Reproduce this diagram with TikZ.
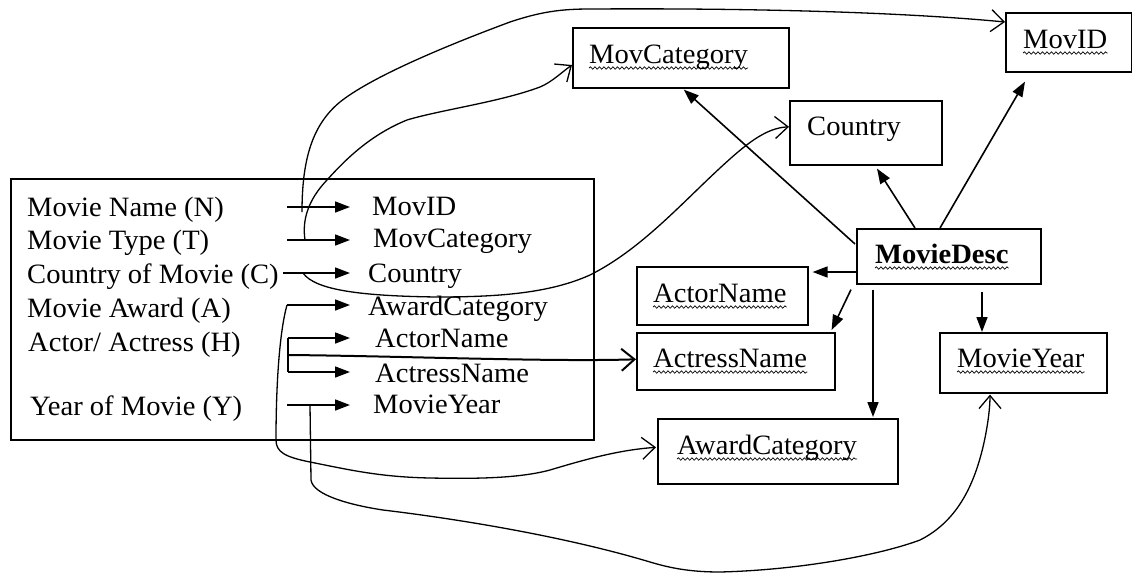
\documentclass[tikz,border=0pt]{standalone}
\usepackage{fontspec}
\setmainfont{Liberation Serif}[FakeStretch=1.02]
\usetikzlibrary{arrows.meta,calc,decorations.pathmorphing}
\begin{document}
\begin{tikzpicture}[x=1pt,y=-1pt,
  font=\fontsize{28}{34}\selectfont,
  box/.style={draw, line width=1.6pt, inner sep=0pt, anchor=north west},
  txt/.style={inner sep=0pt, anchor=base west},
  sol/.style={line width=1.6pt, -{Triangle[length=15pt,width=11pt]}},
  hand/.style={line width=1.3pt, -{Straight Barb[length=13pt,width=22pt]}},
  squig/.style={decorate, decoration={snake, amplitude=1.2pt, segment length=4.5pt}, line width=0.7pt}]
\fill[white] (0,0) rectangle (1132,573);
\useasboundingbox (0,0) rectangle (1132,573);

% source box
\node[box, minimum width=583pt, minimum height=261pt] (src) at (10,178) {};
\node[txt] (l1) at (27,216) {Movie Name (N)};
\node[txt] (l2) at (27,249) {Movie Type (T)};
\node[txt] (l3) at (27,283) {Country of Movie (C)};
\node[txt] (l4) at (27,317) {Movie Award (A)};
\node[txt] (l5) at (28,351) {Actor/ Actress (H)};
\node[txt] (l6) at (30,415) {Year of Movie (Y)};

\node[txt] (r1) at (372,215) {MovID};
\node[txt] (r2) at (373,247) {MovCategory};
\node[txt] (r3) at (368,282) {Country};
\node[txt] (r4) at (368,315) {AwardCategory};
\node[txt] (r5) at (375,347) {ActorName};
\node[txt] (r6) at (375,382) {ActressName};
\node[txt] (r7) at (373,413) {MovieYear};

\coordinate (a1) at (287,207);
\coordinate (a2) at (287,240);
\coordinate (a3) at (283,273);
\coordinate (a4) at (287,305);
\coordinate (a5) at (288,338);
\coordinate (a6) at (288,372);
\coordinate (a7) at (287,405);
\coordinate (am) at (288,355);

\draw[sol, shorten >=22pt] (a1) -- (a1 -| r1.west);
\draw[sol, shorten >=23pt] (a2) -- (a2 -| r2.west);
\draw[sol, shorten >=18pt] (a3) -- (a3 -| r3.west);
\draw[sol, shorten >=18pt] (a4) -- (a4 -| r4.west);
\draw[sol, shorten >=25pt] (a5) -- (a5 -| r5.west);
\draw[sol, shorten >=25pt] (a6) -- (a6 -| r6.west);
\draw[sol, shorten >=23pt] (a7) -- (a7 -| r7.west);
\draw[line width=2pt] (a5) -- (a6);

% target boxes
\node[box, minimum width=216pt, minimum height=60pt] (movcat) at (572,27) {};
\node[box, minimum width=126pt, minimum height=59pt] (movid) at (1005,12) {};
\node[box, minimum width=152pt, minimum height=64pt] (country) at (789,100) {};
\node[box, minimum width=184pt, minimum height=55pt] (mdesc) at (856,228) {};
\node[box, minimum width=171pt, minimum height=58pt] (actor) at (636,266) {};
\node[box, minimum width=198pt, minimum height=57pt] (actress) at (636,332) {};
\node[box, minimum width=167pt, minimum height=60pt] (myear) at (939,332) {};
\node[box, minimum width=240pt, minimum height=65pt] (awd) at (657,418) {};

\node[txt] (tmovcat) at (589,63) {MovCategory};
\node[txt] (tmovid) at (1023,48) {MovID};
\node[txt] (tcountry) at (807,135) {Country};
\node[txt, font=\fontsize{28}{34}\selectfont\bfseries] (tmdesc) at (875,263) {MovieDesc};
\node[txt] (tactor) at (653,302) {ActorName};
\node[txt] (tactress) at (653,367) {ActressName};
\node[txt] (tmyear) at (957,367) {MovieYear};
\node[txt] (tawd) at (677,454) {AwardCategory};

\foreach \t in {tmovcat,tmovid,tmdesc,tactor,tactress,tmyear,tawd}
  \draw[squig] ($(\t.base west)+(0,5)$) -- ($(\t.base east)+(0,5)$);

% MovieDesc arrows
\draw[sol] ($(mdesc.north west)+(-1,16)$) -- ($(movcat.south)+(3,1)$);
\draw[sol] ($(mdesc.north west)+(59,0)$) -- ($(country.south west)+(88,3)$);
\draw[sol] ($(mdesc.north west)+(84,0)$) -- ($(movid.south west)+(20,9)$);
\draw[sol] ($(mdesc.north west)+(0,44)$) -- ($(actor.north east)+(4,6)$);
\draw[sol] ($(mdesc.south west)+(-5,5)$) -- ($(actress.north east)+(-4,-2)$);
\draw[sol] ($(mdesc.south west)+(17,5)$) -- ($(awd.north west)+(216,-1)$);
\draw[sol] ($(mdesc.south west)+(126,7)$) -- ($(myear.north west)+(43,0)$);

% hand-drawn curves
\coordinate (cA) at (302,212);
\coordinate (cB) at (305,240);
\coordinate (cC) at (303,273);
\coordinate (cE) at (310,405);

\draw[hand] (cA) .. controls (302,160) and (312,125) .. (340,102)
  .. controls (370,78) and (440,48) .. (510,22)
  .. controls (540,12) and (560,9) .. (590,9)
  .. controls (750,8) and (900,12) .. ($(movid.north west)+(0,10)$);

\draw[hand] (cB) .. controls (302,220) and (308,200) .. (327,180)
  .. controls (345,160) and (370,135) .. (407,120)
  .. controls (440,110) and (500,102) .. (540,87)
  .. controls (552,82) and (562,72) .. ($(movcat.north west)+(0,38)$);

\draw[hand] (cC) .. controls (315,290) and (360,296) .. (437,297)
  .. controls (500,297) and (550,293) .. (590,275)
  .. controls (640,250) and (680,205) .. (720,168)
  .. controls (745,145) and (765,128) .. ($(country.west)+(0,-6)$);

\draw[hand] (a4) .. controls (280,330) and (276,380) .. (276,440)
  .. controls (276,452) and (285,457) .. (310,462)
  .. controls (350,470) and (380,477) .. (430,478)
  .. controls (480,479) and (520,478) .. (550,470)
  .. controls (590,458) and (620,450) .. ($(awd.west)+(-1,-4)$);

\draw[hand] (cE) -- (311,480) .. controls (313,495) and (350,505) .. (383,510)
  .. controls (450,518) and (560,535) .. (650,562)
  .. controls (670,568) and (690,572) .. (720,572)
  .. controls (800,570) and (880,555) .. (920,540)
  .. controls (960,520) and (975,480) .. (983,447)
  .. controls (987,430) and (990,410) .. ($(myear.south west)+(51,1)$);

\draw[hand, line width=2pt] (am) .. controls (400,356) and (550,362) .. ($(actress.west)+(0,-2)$);
\end{tikzpicture}
\end{document}
